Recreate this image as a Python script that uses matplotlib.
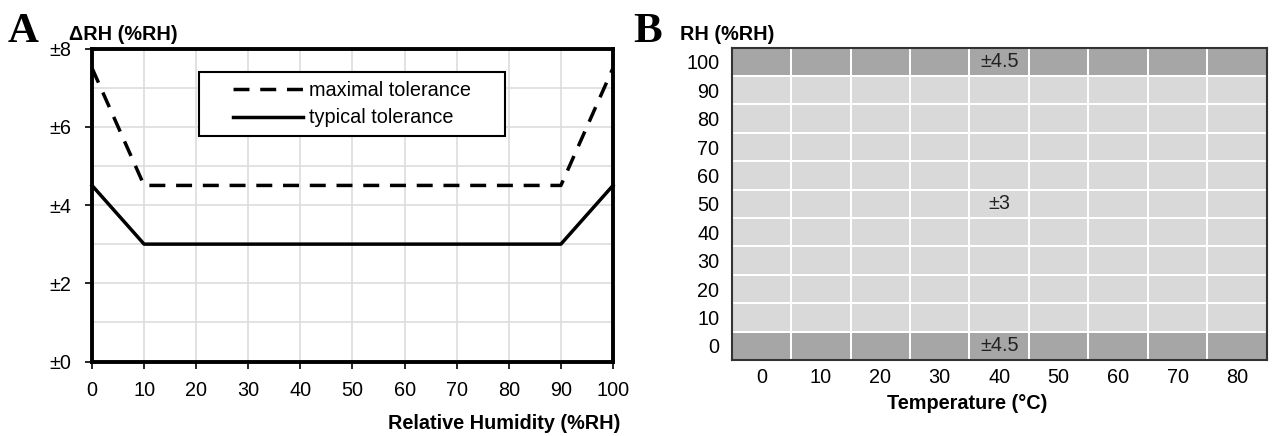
import matplotlib
matplotlib.use("Agg")
import matplotlib.pyplot as plt
import numpy as np
from matplotlib.colors import ListedColormap, BoundaryNorm
from matplotlib.patches import Rectangle
from matplotlib import font_manager

# Prefer a narrow Arial-like face (the reference uses a condensed sans), else Liberation Sans
_names = {f.name for f in font_manager.fontManager.ttflist}
_narrow = None
for cand in ['Liberation Sans Narrow', 'Arial Narrow']:
    if cand in _names:
        _narrow = cand
        break
if _narrow:
    FAM = [_narrow, 'Liberation Sans', 'DejaVu Sans']
    FS = 16.5
else:
    FAM = ['Liberation Sans', 'DejaVu Sans']
    FS = 14.3
plt.rcParams['font.family'] = FAM

# ---- Data: panel A ----
rh_points = [0, 10, 90, 100]
max_tol = [7.5, 4.5, 4.5, 7.5]
typ_tol = [4.5, 3.0, 3.0, 4.5]
a_xticks = list(range(0, 101, 10))
a_yticks = [0, 2, 4, 6, 8]
a_yticklabels = ['±0', '±2', '±4', '±6', '±8']

# ---- Data: panel B ----
temps = [0, 10, 20, 30, 40, 50, 60, 70, 80]
rh_levels = [0, 10, 20, 30, 40, 50, 60, 70, 80, 90, 100]
tol_by_rh = [4.5, 3, 3, 3, 3, 3, 3, 3, 3, 3, 4.5]
cell_labels = [(40, 100, '±4.5'), (40, 50, '±3'), (40, 0, '±4.5')]

W, H = 1273, 436
fig = plt.figure(figsize=(W / 100, H / 100), dpi=100)

def box(l, t, r, b):
    return [l / W, 1 - b / H, (r - l) / W, (b - t) / H]

# ---------------- Panel A ----------------
A_L, A_T, A_R, A_B = 92, 48.5, 613, 361.5
axA = fig.add_axes(box(A_L, A_T, A_R, A_B))
axA.plot(rh_points, max_tol, color='black', lw=2.5, ls='--', dashes=(4.6, 3.1),
         label='maximal tolerance', clip_on=False, zorder=3)
axA.plot(rh_points, typ_tol, color='black', lw=2.5, ls='-',
         label='typical tolerance', clip_on=False, zorder=3)
axA.set_xlim(0, 100)
axA.set_ylim(0, 8)
axA.set_xticks(a_xticks)
axA.set_xticklabels([str(v) for v in a_xticks], fontsize=FS)
axA.set_yticks(a_yticks)
axA.set_yticklabels(a_yticklabels, fontsize=FS)
axA.set_yticks([1, 3, 5, 7], minor=True)
axA.tick_params(axis='y', which='minor', length=0)
axA.tick_params(axis='both', which='major', length=5, width=1.2, direction='out')
axA.tick_params(axis='y', which='major', pad=10)
axA.tick_params(axis='x', which='major', pad=9)
axA.grid(True, which='both', color='#dddddd', lw=1.2)
axA.set_axisbelow(True)
for s in axA.spines.values():
    s.set_linewidth(2.8)
    s.set_color('black')

aw, ah = A_R - A_L, A_B - A_T
bx0, by0, bx1, by1 = 199, 72, 505, 136
axA.add_patch(Rectangle(((bx0 - A_L) / aw, (A_B - by1) / ah), (bx1 - bx0) / aw, (by1 - by0) / ah,
                        transform=axA.transAxes, facecolor='white', edgecolor='black',
                        lw=1.5, zorder=4))
leg = axA.legend(loc='center', bbox_to_anchor=(((bx0 + bx1) / 2 - A_L) / aw, (A_B - (by0 + by1) / 2) / ah),
                 borderaxespad=0, fontsize=FS, frameon=False,
                 handlelength=70 / (FS * 100 / 72), handletextpad=0.3, borderpad=0.2,
                 labelspacing=0.45)
leg.set_zorder(5)

# ---------------- Panel B ----------------
axB = fig.add_axes(box(731.7, 47.7, 1266.7, 360))
grid = np.array([[tol_by_rh[i] for _ in temps] for i in range(len(rh_levels))])
x_edges = np.array(temps + [temps[-1] + 10]) - 5
y_edges = np.array(rh_levels + [rh_levels[-1] + 10]) - 5
cmap = ListedColormap(['#d9d9d9', '#a6a6a6'])
norm = BoundaryNorm([0, 4, 10], cmap.N)
axB.pcolormesh(x_edges, y_edges, grid, cmap=cmap, norm=norm,
               edgecolors='white', linewidth=1.3)
for tx, ty, lab in cell_labels:
    axB.text(tx, ty, lab, ha='center', va='center', fontsize=FS, color='#222222')
axB.set_xlim(x_edges[0], x_edges[-1])
axB.set_ylim(y_edges[0], y_edges[-1])
axB.set_xticks(temps)
axB.set_xticklabels([str(v) for v in temps], fontsize=FS)
axB.set_yticks(rh_levels)
axB.set_yticklabels([str(v) for v in rh_levels], fontsize=FS)
axB.tick_params(axis='both', length=0)
axB.tick_params(axis='y', pad=9)
axB.tick_params(axis='x', pad=6)
for s in axB.spines.values():
    s.set_linewidth(1.5)
    s.set_color('#333333')

# ---------------- Labels ----------------
def ftext(x, y, s, **kw):
    fig.text(x / W, 1 - y / H, s, **kw)

ftext(8, 42, 'A', fontsize=31, fontweight='bold', family='Liberation Serif', va='baseline', ha='left')
ftext(633, 42, 'B', fontsize=31, fontweight='bold', family='Liberation Serif', va='baseline', ha='left')
ftext(69, 34, 'ΔRH (%RH)', fontsize=FS, fontweight='bold', va='center', ha='left')
ftext(680, 34, 'RH (%RH)', fontsize=FS, fontweight='bold', va='center', ha='left')
ftext(620, 423, 'Relative Humidity (%RH)', fontsize=FS, fontweight='bold', va='center', ha='right')
ftext(1047, 403, 'Temperature (°C)', fontsize=FS, fontweight='bold', va='center', ha='right')

fig.savefig('out.png', dpi=100)
